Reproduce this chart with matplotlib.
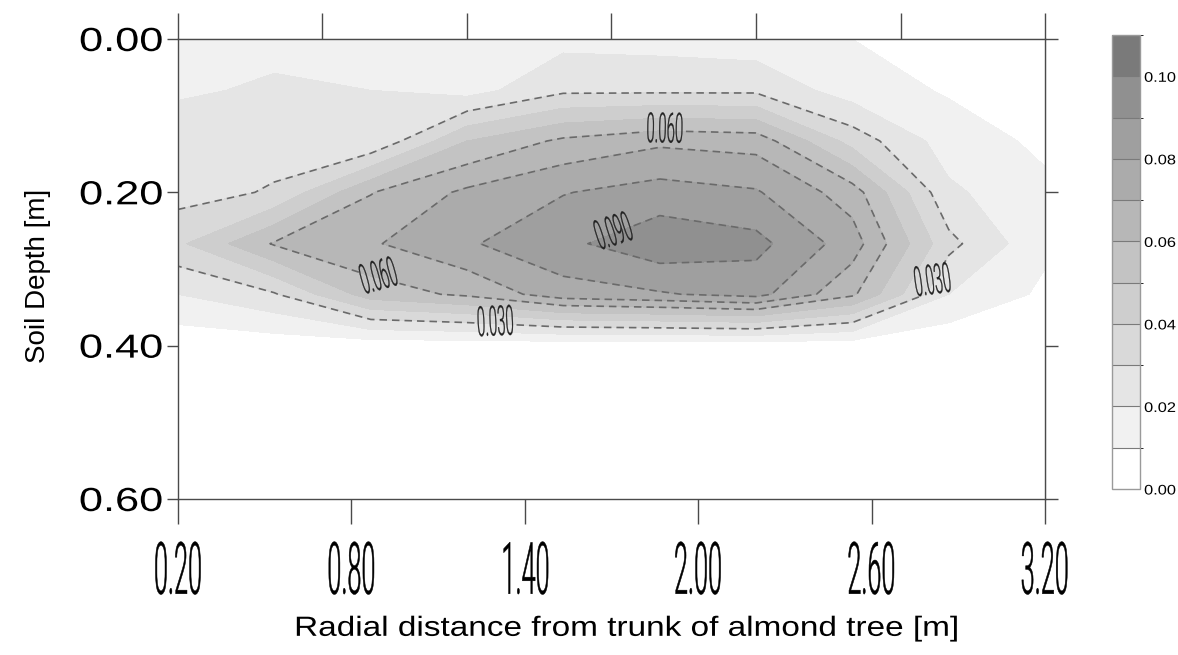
import numpy as np
import matplotlib
matplotlib.use("Agg")
import matplotlib.pyplot as plt
from matplotlib import font_manager as fm
from matplotlib.colors import ListedColormap, BoundaryNorm
from matplotlib.patheffects import AbstractPathEffect
from matplotlib.transforms import Affine2D

# measurement grid: radial distance (m) and soil depth (m)
radial = [0.2, 0.533, 0.867, 1.2, 1.533, 1.867, 2.2, 2.533, 2.867, 3.2]
depth = [0.0, 0.067, 0.133, 0.2, 0.267, 0.333, 0.4, 0.467, 0.533, 0.6]

# values per depth row (left -> right)
row_000 = [0.018, 0.018, 0.018, 0.016, 0.017, 0.016, 0.014, 0.010, 0.006, 0.003]
row_007 = [0.019, 0.021, 0.020, 0.016, 0.028, 0.028, 0.028, 0.015, 0.009, 0.005]
row_013 = [0.024, 0.026, 0.0207, 0.050, 0.062, 0.068, 0.066, 0.036, 0.015, 0.008]
row_020 = [0.026, 0.031, 0.0595, 0.072, 0.0795, 0.0842, 0.081, 0.065, 0.022, 0.012]
row_027 = [0.038, 0.061, 0.0688, 0.0788, 0.0876, 0.097, 0.0932, 0.075, 0.033, 0.012]
row_033 = [0.020, 0.029, 0.055, 0.0619, 0.0758, 0.079, 0.0835, 0.062, 0.020, 0.008]
row_040 = [0.003, 0.004, 0.004, 0.004, 0.004, 0.004, 0.004, 0.004, 0.002, 0.001]
row_047 = [0.002, 0.002, 0.003, 0.003, 0.004, 0.004, 0.003, 0.002, 0.002, 0.001]
row_053 = [0.001, 0.002, 0.002, 0.003, 0.003, 0.004, 0.003, 0.002, 0.001, 0.001]
row_060 = [0.001, 0.001, 0.002, 0.002, 0.003, 0.003, 0.002, 0.002, 0.001, 0.001]

fill_levels = [0.0, 0.01, 0.02, 0.03, 0.04, 0.05, 0.06, 0.07, 0.08, 0.09, 0.10, 0.11]
line_levels = [0.03, 0.06, 0.07, 0.08, 0.09]
cbar_ticks = [0.0, 0.02, 0.04, 0.06, 0.08, 0.10]
x_ticks = [0.2, 0.8, 1.4, 2.0, 2.6, 3.2]
x_top_ticks = [0.2, 0.7, 1.2, 1.7, 2.2, 2.7, 3.2]
y_ticks = [0.0, 0.2, 0.4, 0.6]

# where the contour values are written (radial, depth) and their tilt
label_spots = {
    0.03: [(1.30, 0.36), (2.80, 0.315)],
    0.06: [(0.89, 0.32), (1.885, 0.115)],
    0.09: [(1.70, 0.245)],
}
label_tilt = {0.03: [None, 8], 0.06: [None, None], 0.09: [18]}

Z = np.array([row_000, row_007, row_013, row_020, row_027,
              row_033, row_040, row_047, row_053, row_060])
X, Y = np.meshgrid(radial, depth)


class Stretch(AbstractPathEffect):
    """squeeze / widen glyphs horizontally (the original uses a condensed face)"""
    def __init__(self, sx, anchor=0.5, lw=0.0):
        super().__init__()
        self.sx = sx
        self.anchor = anchor
        self.lw = lw

    def draw_path(self, renderer, gc, tpath, affine, rgbFace=None):
        ext = tpath.get_extents()
        x0 = ext.x0 + (ext.x1 - ext.x0) * self.anchor
        tr = Affine2D().translate(-x0, 0).scale(self.sx, 1.0).translate(x0, 0) + affine
        if self.lw > 0:
            gc0 = renderer.new_gc()
            gc0.copy_properties(gc)
            gc0.set_linewidth(self.lw)
            gc0.set_foreground(rgbFace if rgbFace is not None else gc.get_rgb())
            gc0.set_joinstyle('round')
            renderer.draw_path(gc0, tpath, tr, rgbFace)
            gc0.restore()
        else:
            renderer.draw_path(gc, tpath, tr, rgbFace)


def light_face():
    for fam in ['Roboto', 'Lato', 'Open Sans', 'Noto Sans', 'Inter']:
        ents = []
        for f in fm.fontManager.ttflist:
            w = f.weight if isinstance(f.weight, int) else fm.weight_dict.get(f.weight, 400)
            if f.name == fam and f.style == 'normal' and 100 <= w <= 300:
                ents.append((w, f.fname))
        if ents:
            ents.sort(reverse=True)
            return fm.FontProperties(fname=ents[0][1]), True
    return fm.FontProperties(family='Liberation Sans'), False


cond_font, is_light = light_face()
stroke = 0.35 if is_light else 0.0

plt.rcParams['font.family'] = ['Liberation Sans', 'DejaVu Sans']

greys = ['#ffffff', '#f1f1f1', '#e5e5e5', '#d9d9d9', '#cecece', '#c3c3c3',
         '#b7b7b7', '#ababab', '#9f9f9f', '#909090', '#7a7a7a']
cmap = ListedColormap(greys)
norm = BoundaryNorm(fill_levels, cmap.N)

fig = plt.figure(figsize=(11.78, 6.55), dpi=100)
ax = fig.add_axes([0.1511, 0.2382, 0.736, 0.7023])

cf = ax.contourf(X, Y, Z, levels=fill_levels, cmap=cmap, norm=norm)

dash = [(0, (4.5, 3.0))]
for lev in line_levels:
    cs = ax.contour(X, Y, Z, levels=[lev], colors='#6a6a6a',
                    linewidths=1.2, linestyles=dash)
    if lev in label_spots:
        # small size while placing, so the gap fits the narrow label
        txts = ax.clabel(cs, manual=label_spots[lev], fmt='%.3f', inline=True,
                         inline_spacing=2, fontsize=11, colors='#222222')
        for t, tilt in zip(txts, label_tilt[lev]):
            t.set_fontproperties(cond_font)
            t.set_fontsize(30)
            t.set_path_effects([Stretch(0.36, lw=stroke * 0.6)])
            if tilt is not None:
                t.set_rotation(tilt)

ax.set_xlim(0.2, 3.2)
ax.set_ylim(0.6, 0.0)

spine_c = '#4a4a4a'
for s in ax.spines.values():
    s.set_color(spine_c)
    s.set_linewidth(1.0)

ax.set_xticks(x_ticks)
ax.set_xticklabels([f"{v:.2f}" for v in x_ticks])
ax.set_yticks(y_ticks)
ax.set_yticklabels([f"{v:.2f}" for v in y_ticks])
ax.tick_params(axis='x', direction='out', length=18, width=1.0, color=spine_c, pad=11)
ax.tick_params(axis='y', direction='out', length=8, width=1.0, color=spine_c,
               pad=3, labelsize=24)
for lab in ax.get_xticklabels():
    lab.set_fontproperties(cond_font)
    lab.set_fontsize(52)
    lab.set_path_effects([Stretch(0.35, lw=stroke)])
for lab in ax.get_yticklabels():
    lab.set_path_effects([Stretch(1.3, anchor=1.0)])

top = ax.secondary_xaxis('top')
top.set_xticks(x_top_ticks)
top.set_xticklabels([])
top.tick_params(direction='out', length=19, width=1.0, color=spine_c)
top.spines['top'].set_color(spine_c)

right = ax.secondary_yaxis('right')
right.set_yticks(y_ticks)
right.set_yticklabels([])
right.tick_params(direction='out', length=9, width=1.0, color=spine_c)
right.spines['right'].set_color(spine_c)

ax.set_ylabel('Soil Depth [m]', fontsize=20)
ax.yaxis.set_label_coords(-0.146, 0.485)
xl = ax.set_xlabel('Radial distance from trunk of almond tree [m]', fontsize=20)
xl.set_path_effects([Stretch(1.2)])
ax.xaxis.set_label_coords(0.517, -0.254)

cax = fig.add_axes([1112 / 1178, 1 - 489 / 655, 28 / 1178, 454 / 655])
cb = fig.colorbar(cf, cax=cax, drawedges=True, ticks=cbar_ticks)
cb.ax.set_yticklabels([f"{v:.2f}" for v in cbar_ticks])
cb.ax.tick_params(length=0, labelsize=10, pad=3)
for lab in cb.ax.get_yticklabels():
    lab.set_path_effects([Stretch(1.18, anchor=0.0)])
cb.outline.set_edgecolor('#9a9a9a')
cb.outline.set_linewidth(1.0)
cb.dividers.set_color('#7a7a7a')
cb.dividers.set_linewidth(0.8)

fig.savefig('out.png', dpi=100)
